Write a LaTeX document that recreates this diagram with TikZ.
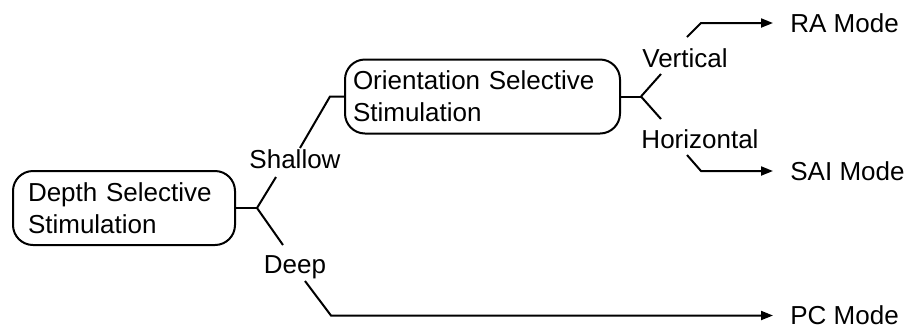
\documentclass[tikz,border=0pt]{standalone}
\usepackage{fontspec}
\setmainfont{Liberation Sans}
\usetikzlibrary{arrows.meta}
\tikzset{
  stagebox/.style={rectangle, rounded corners=10pt, draw, line width=1pt,
    minimum height=37pt, align=left, font=\fontsize{13}{16}\selectfont},
  branchlabel/.style={anchor=base, inner sep=0pt, font=\fontsize{13}{16}\selectfont},
  modelabel/.style={anchor=west, inner ysep=0pt, inner xsep=8.5pt,
    font=\fontsize{13}{16}\selectfont},
  link/.style={line width=1pt},
  arrow/.style={link, -{Stealth[length=6pt, width=4.5pt, inset=0pt]}},
}

\begin{document}
\begin{tikzpicture}[x=0.5pt, y=-0.5pt]
  \useasboundingbox (0,0) rectangle (906,328);
  % stimulation stages
  \node[stagebox, inner xsep=7.5pt, text width=96pt] (depth) at (124,208)
    {Depth Selective\\Stimulation};
  \node[stagebox, inner xsep=4pt, text width=129.5pt] (orient) at (482.5,96.5)
    {Orientation Selective\\Stimulation};
  % branch labels
  \node[branchlabel] (shallow) at (295,168) {Shallow};
  \node[branchlabel] (deep) at (295,273) {Deep};
  \node[branchlabel] (vert) at (685,67) {Vertical};
  \node[branchlabel] (horiz) at (700,148) {Horizontal};
  % resulting modes
  \node[modelabel] (ra) at (773,23) {RA Mode};
  \node[modelabel] (sai) at (773,171) {SAI Mode};
  \node[modelabel] (pc) at (773,315.5) {PC Mode};
  % fork points and bends
  \coordinate (depthfork) at (257,208);
  \coordinate (shallowin) at (276,177);
  \coordinate (shallowout) at (300,148);
  \coordinate (shallowbend) at (330,96.5);
  \coordinate (deepin) at (283,245);
  \coordinate (deepout) at (305,281);
  \coordinate (deepbend) at (331,315.5);
  \coordinate (orientfork) at (641,96.5);
  \coordinate (vertin) at (661,74);
  \coordinate (vertout) at (687,37);
  \coordinate (vertbend) at (701,23);
  \coordinate (horizin) at (661,119);
  \coordinate (horizout) at (687,155);
  \coordinate (horizbend) at (701,171);
  % depth branches
  \draw[link] (depth.east) -- (depthfork);
  \draw[link] (depthfork) -- (shallowin);
  \draw[link] (shallowout) -- (shallowbend) -- (orient.west);
  \draw[link] (depthfork) -- (deepin);
  \draw[arrow] (deepout) -- (deepbend) -- (pc.west);
  % orientation branches
  \draw[link] (orient.east) -- (orientfork);
  \draw[link] (orientfork) -- (vertin);
  \draw[arrow] (vertout) -- (vertbend) -- (ra.west);
  \draw[link] (orientfork) -- (horizin);
  \draw[arrow] (horizout) -- (horizbend) -- (sai.west);
\end{tikzpicture}
\end{document}
